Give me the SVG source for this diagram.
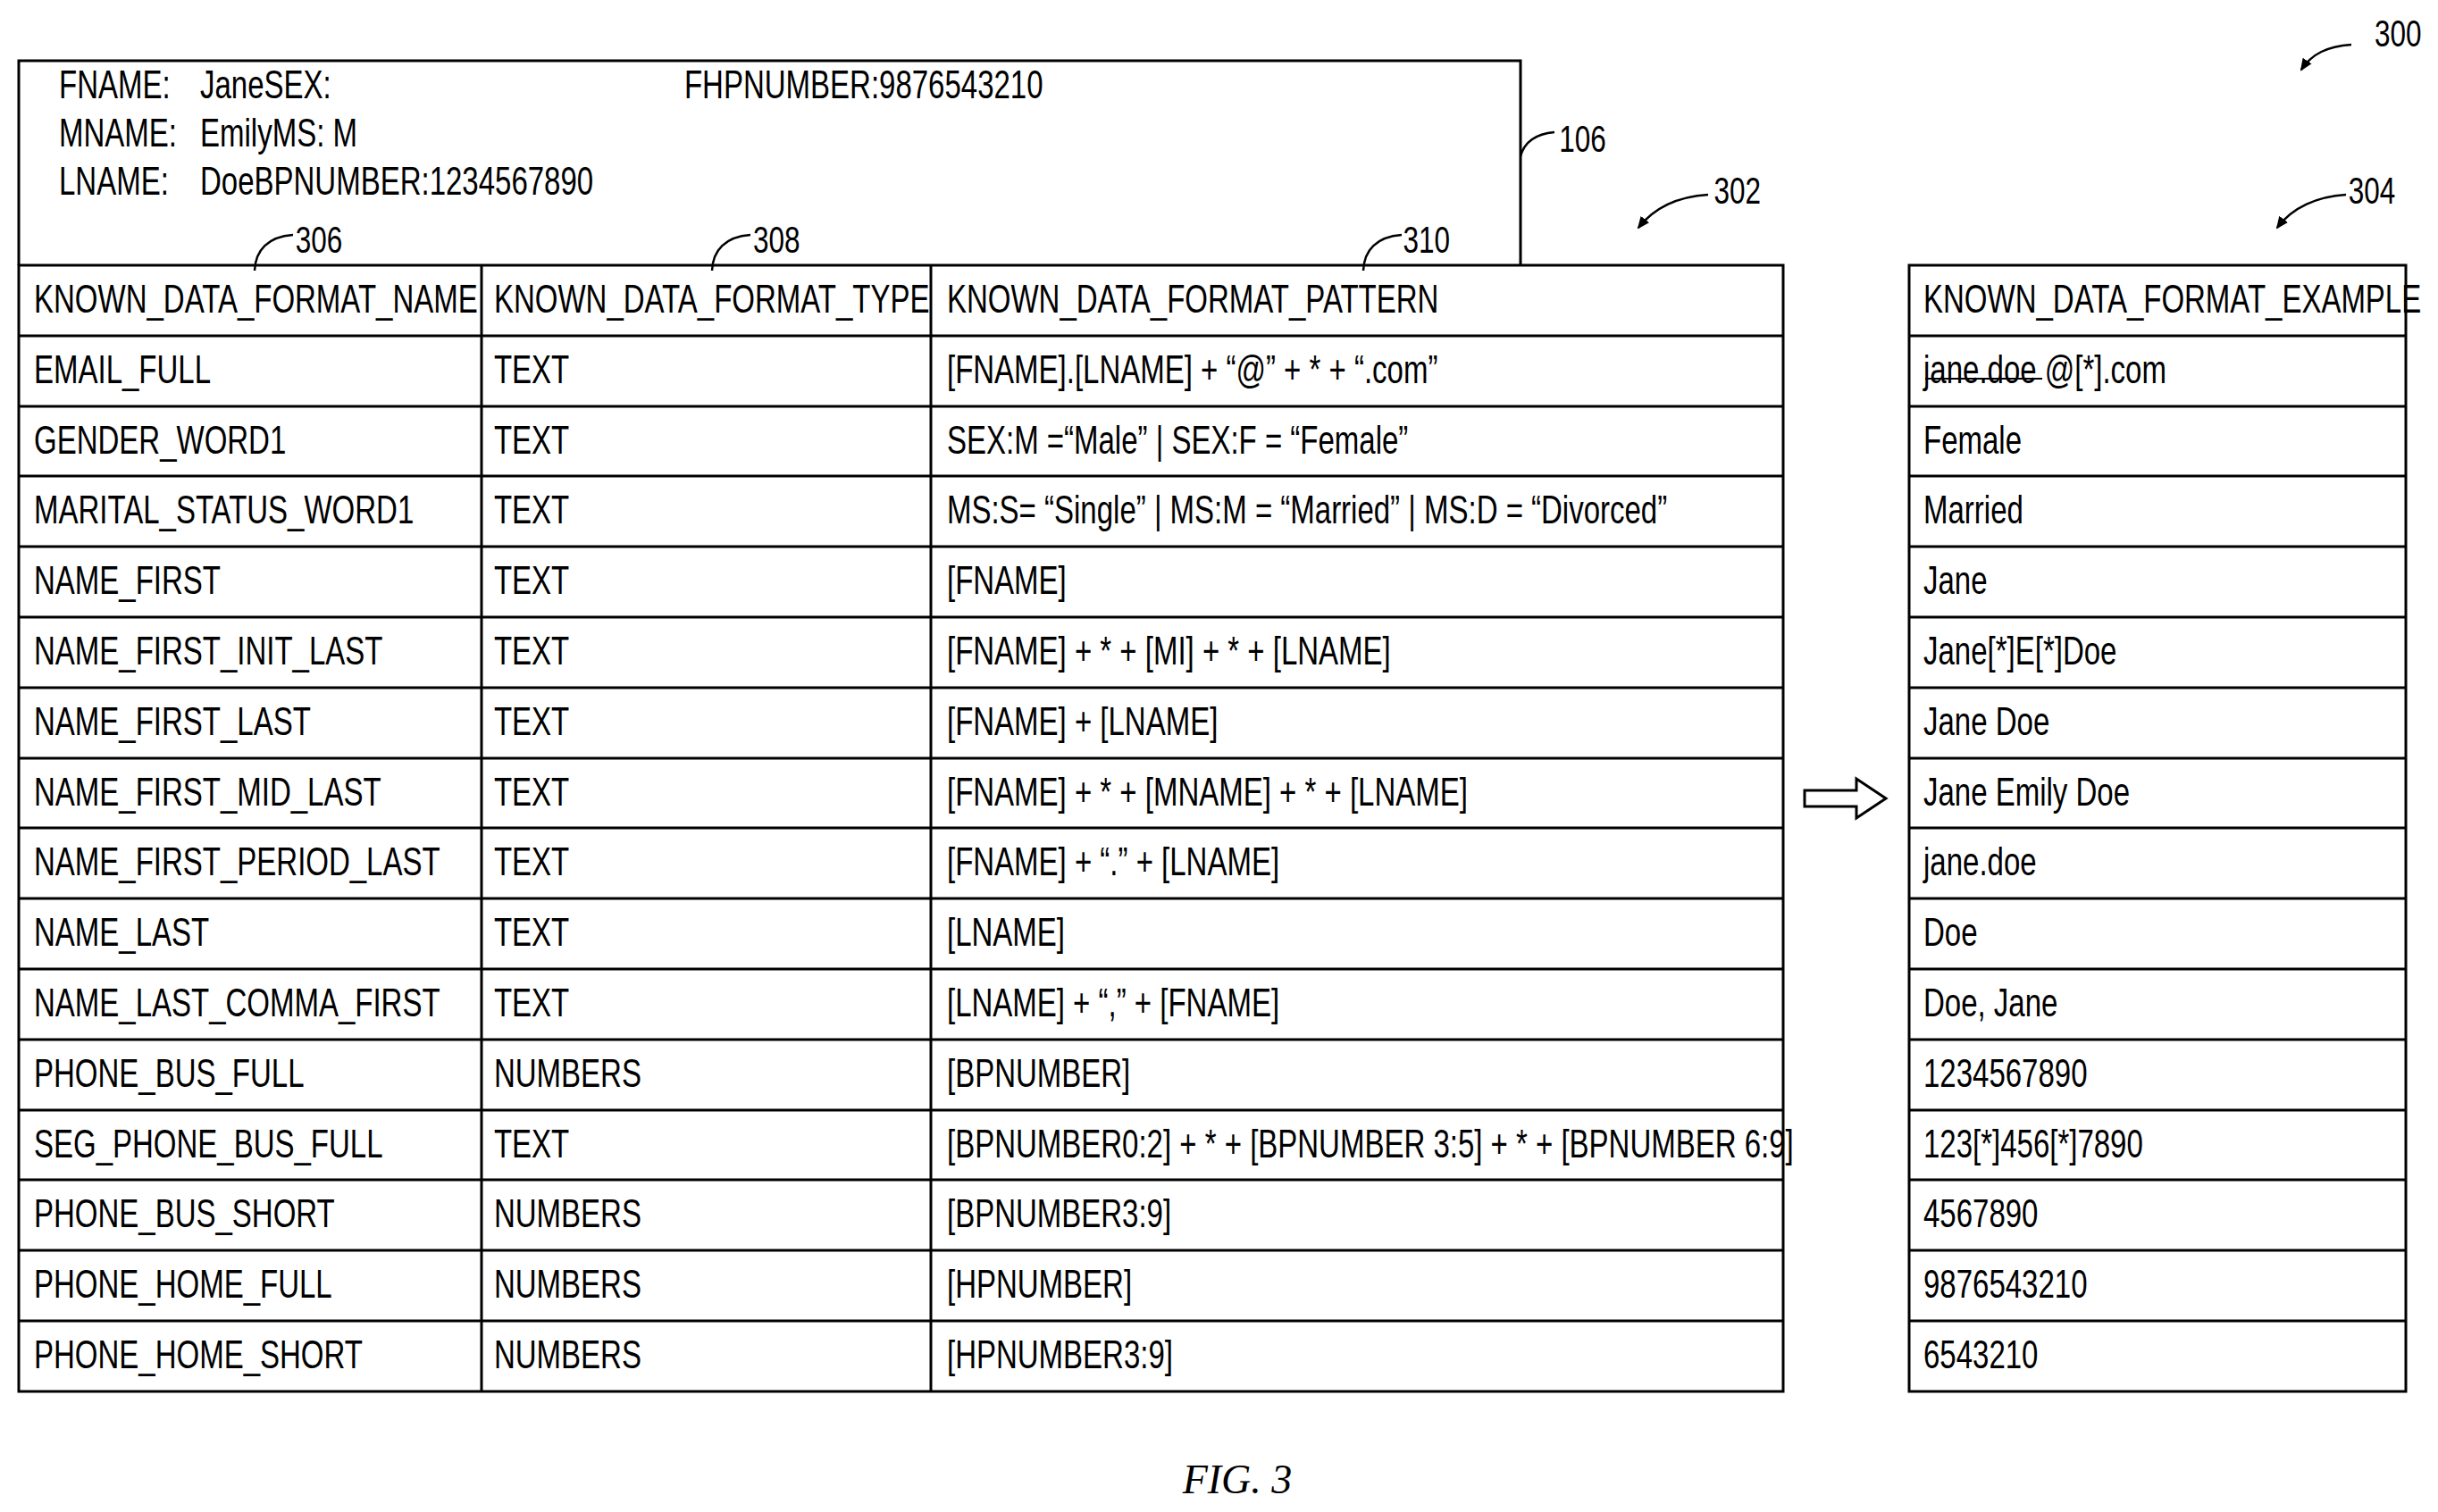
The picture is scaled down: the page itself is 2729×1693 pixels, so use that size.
<svg xmlns="http://www.w3.org/2000/svg" width="2729" height="1693" viewBox="0 0 2729 1693">
<style>
.t{font-family:"Liberation Sans",Arial,sans-serif;font-size:44px;fill:#000}
.l{font-family:"Liberation Sans",Arial,sans-serif;font-size:42px;fill:#000}
.b{fill:none;stroke:#000;stroke-width:3}
.ld{fill:none;stroke:#000;stroke-width:2.5}
</style>
<defs>
<marker id="ah" markerWidth="14" markerHeight="14" refX="12" refY="7" orient="auto" markerUnits="userSpaceOnUse" viewBox="0 0 14 14"><path d="M0,1 L14,7 L0,13 Z" fill="#000"/></marker>
</defs>
<g id="record106">
<path class="b" d="M21,297 V68 H1702 V297"/>
</g>
<g id="table302">
<rect class="b" x="21" y="297" width="1975" height="1261"/>
<path class="b" d="M539,297V1558M1042,297V1558M21,376H1996M21,455H1996M21,533H1996M21,612H1996M21,691H1996M21,770H1996M21,849H1996M21,927H1996M21,1006H1996M21,1085H1996M21,1164H1996M21,1243H1996M21,1321H1996M21,1400H1996M21,1479H1996"/>
</g>
<g id="table304">
<rect class="b" x="2137" y="297" width="556" height="1261"/>
<path class="b" d="M2137,376H2693M2137,455H2693M2137,533H2693M2137,612H2693M2137,691H2693M2137,770H2693M2137,849H2693M2137,927H2693M2137,1006H2693M2137,1085H2693M2137,1164H2693M2137,1243H2693M2137,1321H2693M2137,1400H2693M2137,1479H2693"/>
<line x1="2155" y1="424" x2="2286" y2="424" stroke="#000" stroke-width="2"/>
</g>
<g id="connectors">
<polygon points="2020,885 2078,885 2078,872 2111,894 2078,916 2078,903 2020,903" fill="#fff" stroke="#000" stroke-width="3"/>
<path class="ld" d="M2632,50 C2605,52 2588,60 2576,78" marker-end="url(#ah)"/>
<path class="ld" d="M1912,218 C1880,220 1852,232 1834,255" marker-end="url(#ah)"/>
<path class="ld" d="M2626,218 C2594,220 2566,232 2549,255" marker-end="url(#ah)"/>
<path class="ld" d="M1702,175 C1706,160 1718,150 1740,148"/>
<path class="ld" d="M285,303 C286,280 300,265 328,263"/>
<path class="ld" d="M797,303 C798,280 812,265 840,263"/>
<path class="ld" d="M1526,303 C1527,280 1541,265 1569,263"/>
</g>
<g transform="scale(0.75 1)">
<g id="text106" class="t">
<text x="88" y="110">FNAME:</text><text x="298.7" y="110">JaneSEX:</text><text x="1021.3" y="110">FHPNUMBER:9876543210</text>
<text x="88" y="164">MNAME:</text><text x="298.7" y="164">EmilyMS: M</text>
<text x="88" y="218">LNAME:</text><text x="298.7" y="218">DoeBPNUMBER:1234567890</text>
</g>
<g id="labels" class="l">
<text x="3544" y="52">300</text>
<text x="2327" y="170">106</text>
<text x="2558" y="228">302</text>
<text x="3505" y="228">304</text>
<text x="441" y="283">306</text>
<text x="1124" y="283">308</text>
<text x="2094" y="283">310</text>
</g>
<g id="rows" class="t">
<text x="50.7" y="350">KNOWN_DATA_FORMAT_NAME</text><text x="737.3" y="350">KNOWN_DATA_FORMAT_TYPE</text><text x="1413.3" y="350">KNOWN_DATA_FORMAT_PATTERN</text><text x="2870.7" y="350">KNOWN_DATA_FORMAT_EXAMPLE</text>
<text x="50.7" y="429">EMAIL_FULL</text><text x="737.3" y="429">TEXT</text><text x="1413.3" y="429">[FNAME].[LNAME] + “@” + * + “.com”</text><text x="2870.7" y="429">jane.doe @[*].com</text>
<text x="50.7" y="508">GENDER_WORD1</text><text x="737.3" y="508">TEXT</text><text x="1413.3" y="508">SEX:M =“Male” | SEX:F = “Female”</text><text x="2870.7" y="508">Female</text>
<text x="50.7" y="586">MARITAL_STATUS_WORD1</text><text x="737.3" y="586">TEXT</text><text x="1413.3" y="586">MS:S= “Single” | MS:M = “Married” | MS:D = “Divorced”</text><text x="2870.7" y="586">Married</text>
<text x="50.7" y="665">NAME_FIRST</text><text x="737.3" y="665">TEXT</text><text x="1413.3" y="665">[FNAME]</text><text x="2870.7" y="665">Jane</text>
<text x="50.7" y="744">NAME_FIRST_INIT_LAST</text><text x="737.3" y="744">TEXT</text><text x="1413.3" y="744">[FNAME] + * + [MI] + * + [LNAME]</text><text x="2870.7" y="744">Jane[*]E[*]Doe</text>
<text x="50.7" y="823">NAME_FIRST_LAST</text><text x="737.3" y="823">TEXT</text><text x="1413.3" y="823">[FNAME] + [LNAME]</text><text x="2870.7" y="823">Jane Doe</text>
<text x="50.7" y="902">NAME_FIRST_MID_LAST</text><text x="737.3" y="902">TEXT</text><text x="1413.3" y="902">[FNAME] + * + [MNAME] + * + [LNAME]</text><text x="2870.7" y="902">Jane Emily Doe</text>
<text x="50.7" y="980">NAME_FIRST_PERIOD_LAST</text><text x="737.3" y="980">TEXT</text><text x="1413.3" y="980">[FNAME] + “.” + [LNAME]</text><text x="2870.7" y="980">jane.doe</text>
<text x="50.7" y="1059">NAME_LAST</text><text x="737.3" y="1059">TEXT</text><text x="1413.3" y="1059">[LNAME]</text><text x="2870.7" y="1059">Doe</text>
<text x="50.7" y="1138">NAME_LAST_COMMA_FIRST</text><text x="737.3" y="1138">TEXT</text><text x="1413.3" y="1138">[LNAME] + “,” + [FNAME]</text><text x="2870.7" y="1138">Doe, Jane</text>
<text x="50.7" y="1217">PHONE_BUS_FULL</text><text x="737.3" y="1217">NUMBERS</text><text x="1413.3" y="1217">[BPNUMBER]</text><text x="2870.7" y="1217">1234567890</text>
<text x="50.7" y="1296">SEG_PHONE_BUS_FULL</text><text x="737.3" y="1296">TEXT</text><text x="1413.3" y="1296">[BPNUMBER0:2] + * + [BPNUMBER 3:5] + * + [BPNUMBER 6:9]</text><text x="2870.7" y="1296">123[*]456[*]7890</text>
<text x="50.7" y="1374">PHONE_BUS_SHORT</text><text x="737.3" y="1374">NUMBERS</text><text x="1413.3" y="1374">[BPNUMBER3:9]</text><text x="2870.7" y="1374">4567890</text>
<text x="50.7" y="1453">PHONE_HOME_FULL</text><text x="737.3" y="1453">NUMBERS</text><text x="1413.3" y="1453">[HPNUMBER]</text><text x="2870.7" y="1453">9876543210</text>
<text x="50.7" y="1532">PHONE_HOME_SHORT</text><text x="737.3" y="1532">NUMBERS</text><text x="1413.3" y="1532">[HPNUMBER3:9]</text><text x="2870.7" y="1532">6543210</text>
</g>
</g>
<text x="1385" y="1672" text-anchor="middle" style="font-family:'Liberation Serif',serif;font-style:italic;font-size:46px">FIG. 3</text>
</svg>
